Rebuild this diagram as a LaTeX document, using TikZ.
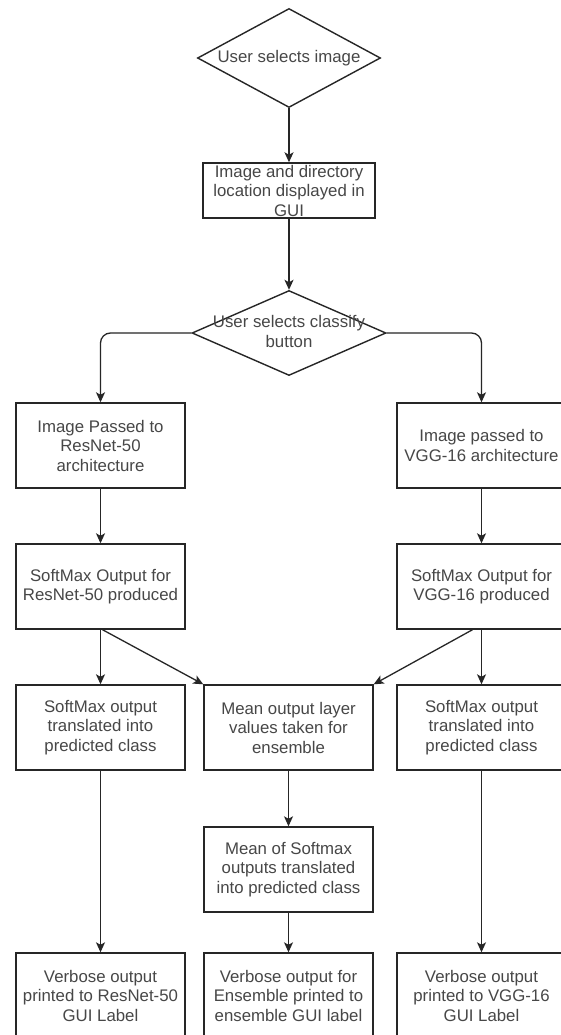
\documentclass[tikz,border=0pt]{standalone}
\usepackage{fontspec}
\setmainfont{Liberation Sans}
\usetikzlibrary{arrows.meta, shapes.geometric}
\definecolor{boxline}{HTML}{262626}
\definecolor{txt}{HTML}{474747}
\newcommand{\FreeText}[1]{\smash{\makebox[0pt]{\raisebox{-0.3em}{\begin{tabular}{@{}c@{}}#1\end{tabular}}}}}

\begin{document}
\begin{tikzpicture}[
%  x and y in pixels of the page, y going down
           x = 1pt, y = -1pt,
        font = \fontsize{16.8}{19.5}\selectfont,
MyBox/.style={draw=boxline, line width=1.4pt, minimum width=169pt, minimum height=85pt,
              inner sep=0pt, align=center, text=txt},
MyChoice/.style={draw=boxline, line width=1.4pt, diamond, inner sep=0pt, text=txt},
  ]
\useasboundingbox[fill=white] (0,0) rectangle (561,1035);
\node [MyChoice, minimum width=183pt, minimum height=99pt] (sel) at (289,58) {\FreeText{User selects image}};
  \node [MyBox, minimum width=172pt, minimum height=55pt] (disp) at (289,190.5) {Image and directory\\location displayed in\\GUI};
  \node [MyChoice, minimum width=194pt, minimum height=85pt] (cls) at (289,333) {\FreeText{User selects classify\\button}};
  \node [MyBox] (resin) at (100.5,445.5) {Image Passed to\\ResNet-50\\architecture};
  \node [MyBox] (vgin) at (481.5,445.5) {Image passed to\\VGG-16 architecture};
  \node [MyBox] (ressm) at (100.5,586.5) {SoftMax Output for\\ResNet-50 produced};
  \node [MyBox] (vgsm) at (481.5,586.5) {SoftMax Output for\\VGG-16 produced};
  \node [MyBox] (resp) at (100.5,727.5) {SoftMax output\\translated into\\predicted class};
  \node [MyBox] (mean) at (288.5,727.5) {Mean output layer\\values taken for\\ensemble};
  \node [MyBox] (vgp) at (481.5,727.5) {SoftMax output\\translated into\\predicted class};
  \node [MyBox] (meansm) at (288.5,869.5) {Mean of Softmax\\outputs translated\\into predicted class};
  \node [MyBox] (resout) at (100.5,995.5) {Verbose output\\printed to ResNet-50\\GUI Label};
  \node [MyBox] (ensout) at (288.5,995.5) {Verbose output for\\Ensemble printed to\\ensemble GUI label};
  \node [MyBox] (vgout) at (481.5,995.5) {Verbose output\\printed to VGG-16\\GUI Label};
\begin{scope}[-{Stealth[length=10pt, width=9pt, inset=2.5pt]}, line width=1.3pt, draw=boxline]
  \draw (sel.south) -- (disp.north);
  \draw (disp.south) -- (cls.north);
  \draw[rounded corners=10pt] (cls.west) -| (resin.north);
  \draw[rounded corners=10pt] (cls.east) -| (vgin.north);
  \draw (resin.south) -- (ressm.north);
  \draw (vgin.south) -- (vgsm.north);
  \draw (ressm.south) -- (resp.north);
  \draw ([xshift=2pt]ressm.south) -- (mean.north west);
  \draw ([xshift=-9pt]vgsm.south) -- (mean.north east);
  \draw (vgsm.south) -- (vgp.north);
  \draw (resp.south) -- (resout.north);
  \draw (mean.south) -- (meansm.north);
  \draw (meansm.south) -- (ensout.north);
  \draw (vgp.south) -- (vgout.north);
\end{scope}
\end{tikzpicture}
\end{document}
